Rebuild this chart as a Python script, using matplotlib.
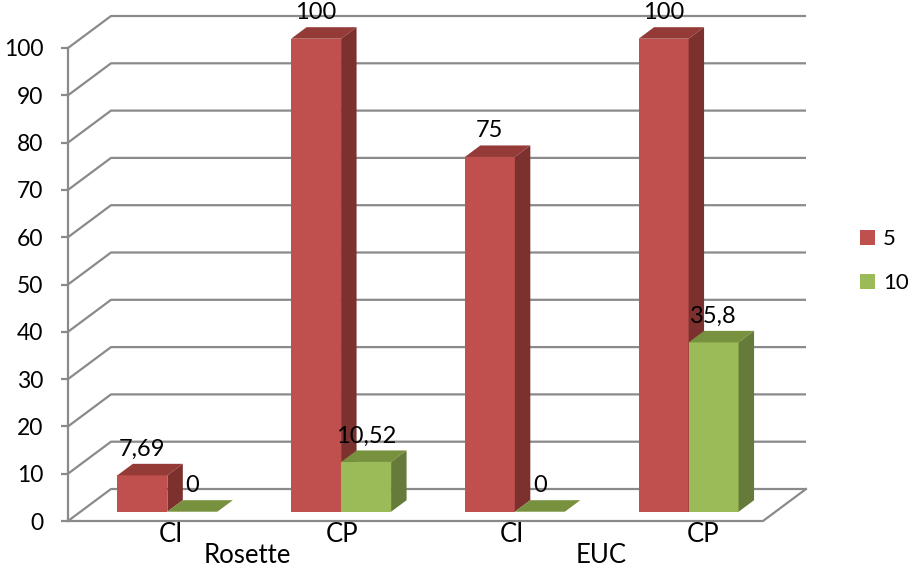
import matplotlib.pyplot as plt
from matplotlib.patches import Polygon, Patch

plt.rcParams['font.family'] = ['Lato', 'DejaVu Sans']

groups = ['Rosette', 'EUC']
categories = ['CI', 'CP', 'CI', 'CP']
series_names = ['5', '10']
vals_5 = [7.69, 100, 75, 100]
vals_10 = [0, 10.52, 0, 35.8]
yticks = list(range(0, 101, 10))

# colours: front, top, side
red = ('#C0504D', '#943B38', '#7D312F')
green = ('#9BBB59', '#77913F', '#667A39')
grid_col = '#8A8A8A'

fig = plt.figure(figsize=(9.08, 5.70), dpi=100)
# front plane of the plot, in pixels: x 68..763, y 48..521
ax = fig.add_axes([68 / 908, 49 / 570, 695 / 908, 473 / 570])
ax.set_xlim(0, len(categories))
ax.set_ylim(0, 100)

px_x = 695 / len(categories)
px_y = 473 / 100
WX, WY = 43 / px_x, 32 / px_y       # full depth of the box
d0, d1 = 0.29, 0.65                 # bar front / back depth
bw = 50 / px_x                      # bar width


def proj(x, y, d):
    return (x + d * WX, y + d * WY)


# walls: gridlines on left wall and back wall
n = len(categories)
for t in yticks:
    ax.plot([0, WX, n + WX], [t, t + WY, t + WY], color=grid_col, lw=1.6,
            clip_on=False, zorder=1, solid_capstyle='butt')
ax.plot([0, n, n + WX], [0, 0, WY], color=grid_col, lw=1.6, clip_on=False, zorder=1)


def bar3d(x0, x1, v, cols, z):
    front = [proj(x0, 0, d0), proj(x1, 0, d0), proj(x1, v, d0), proj(x0, v, d0)]
    top = [proj(x0, v, d0), proj(x1, v, d0), proj(x1, v, d1), proj(x0, v, d1)]
    side = [proj(x1, 0, d0), proj(x1, v, d0), proj(x1, v, d1), proj(x1, 0, d1)]
    for pts, c in ((front, cols[0]), (top, cols[1]), (side, cols[2])):
        ax.add_patch(Polygon(pts, closed=True, facecolor=c, edgecolor='none',
                             clip_on=False, zorder=z))


def fmt(v):
    return f'{v:g}'.replace('.', ',')


for i in range(n):
    c = i + 0.5
    for k, (vals, cols) in enumerate(((vals_5, red), (vals_10, green))):
        x0 = c - bw + k * bw
        x1 = x0 + bw
        v = vals[i]
        bar3d(x0, x1, v, cols, 2 + i * 2 + k)
        ax.annotate(fmt(v), xy=(x0 + bw / 2 + d0 * WX, v + d1 * WY),
                    xytext=(0, 10.5), textcoords='offset points',
                    ha='center', va='center', fontsize=17, zorder=20,
                    annotation_clip=False)

# category labels
cat_dx = [0.09, 0.08, 0.055, 0.155]
for i, cat in enumerate(categories):
    ax.annotate(cat, xy=(i + 0.5 + cat_dx[i], 0), xytext=(0, -9.5),
                textcoords='offset points', ha='center', va='center',
                fontsize=18.5, annotation_clip=False)
grp_x = [1.03, 3.07]
for g, gx in zip(groups, grp_x):
    ax.annotate(g, xy=(gx, 0), xytext=(0, -24.5), textcoords='offset points',
                ha='center', va='center', fontsize=18.5, annotation_clip=False)

# axes styling
for s in ['top', 'right', 'bottom']:
    ax.spines[s].set_visible(False)
ax.spines['left'].set_color(grid_col)
ax.spines['left'].set_linewidth(1.6)
ax.set_xticks([])
ax.set_yticks(yticks)
ax.tick_params(axis='y', length=5.3, width=1.6, color=grid_col, pad=12.5,
               labelsize=16.5)
ax.patch.set_visible(False)

handles = [Patch(facecolor=red[0]), Patch(facecolor=green[0])]
fig.legend(handles, series_names, loc='upper left',
           bbox_to_anchor=(860 / 908, 1 - 229 / 570), frameon=False,
           fontsize=16, handlelength=0.66, handleheight=0.66,
           handletextpad=0.38, labelspacing=1.1, borderpad=0, borderaxespad=0)

fig.savefig('out.png', dpi=100)
